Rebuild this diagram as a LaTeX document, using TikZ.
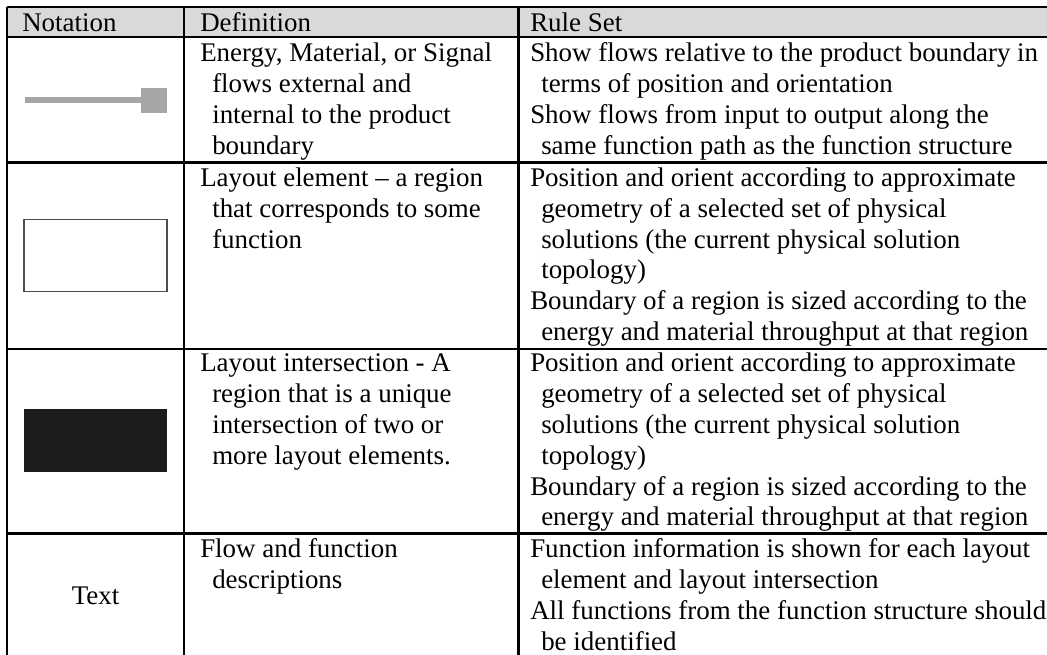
\documentclass[tikz,border=0pt]{standalone}
\usepackage{fontspec}
\setmainfont{Liberation Serif}
\definecolor{headgray}{HTML}{D9D9D9}
\definecolor{flowgray}{HTML}{A6A6A6}
\definecolor{boxedge}{HTML}{4D4D4D}
\definecolor{darkfill}{HTML}{1C1C1C}
\tikzset{
  rule/.style={line width=1.6pt},
  txt/.style={anchor=base west, inner sep=0pt, font=\fontsize{20.2}{23.25}\selectfont},
}
\begin{document}
\begin{tikzpicture}[x=0.75pt, y=-0.75pt]
\useasboundingbox (0,0) rectangle (1047,655);
% header
\fill[headgray] (7,7) rectangle (1047,37);
\draw[rule] (7,7)--(1047,7);
\draw[rule] (7,37)--(1047,37);
\draw[rule] (7,162.5)--(1047,162.5);
\draw[rule] (7,349)--(1047,349);
\draw[rule] (7,533.5)--(1047,533.5);
\draw[rule] (7,7)--(7,655);
\draw[rule] (184,7)--(184,655);
\draw[rule] (518.5,7)--(518.5,655);
\node[txt] (hnot) at (22,31.5) {Notation};
\node[txt] (hdef) at (200,31.5) {Definition};
\node[txt] (hrul) at (530,31.5) {Rule Set};
% notation symbols
\draw[flowgray, line width=4.5pt] (25,100.5)--(143,100.5);
\fill[flowgray] (141,88) rectangle (167,113);
\draw[boxedge, line width=0.8pt] (24,219.5) rectangle (167,291.5);
\fill[darkfill] (24,409) rectangle (167,472.5);
\node[txt, anchor=base] (ntext) at (95.5,605) {Text};
% definitions
\node[txt] (d11) at (200,61.5) {Energy, Material, or Signal};
\node[txt] (d12) at (212,92.5) {flows external and};
\node[txt] (d13) at (212,123.5) {internal to the product};
\node[txt] (d14) at (212,154.5) {boundary};
\node[txt] (d21) at (200,186.5) {Layout element -- a region};
\node[txt] (d22) at (212,217.3) {that corresponds to some};
\node[txt] (d23) at (212,248.1) {function};
\node[txt] (d31) at (200,372) {Layout intersection - A};
\node[txt] (d32) at (212,402.8) {region that is a unique};
\node[txt] (d33) at (212,433.6) {intersection of two or};
\node[txt] (d34) at (212,464.4) {more layout elements.};
\node[txt] (d41) at (200,558) {Flow and function};
\node[txt] (d42) at (212,589) {descriptions};
% rule set
\node[txt] (r11) at (530,61.5) {Show flows relative to the product boundary in};
\node[txt] (r12) at (541,92.5) {terms of position and orientation};
\node[txt] (r13) at (530,123.5) {Show flows from input to output along the};
\node[txt] (r14) at (541,154.5) {same function path as the function structure};
\node[txt] (r21) at (530,186.5) {Position and orient according to approximate};
\node[txt] (r22) at (541,217.3) {geometry of a selected set of physical};
\node[txt] (r23) at (541,248.1) {solutions (the current physical solution};
\node[txt] (r24) at (541,278.9) {topology)};
\node[txt] (r25) at (530,309.7) {Boundary of a region is sized according to the};
\node[txt] (r26) at (541,340.5) {energy and material throughput at that region};
\node[txt] (r31) at (530,372) {Position and orient according to approximate};
\node[txt] (r32) at (541,402.8) {geometry of a selected set of physical};
\node[txt] (r33) at (541,433.6) {solutions (the current physical solution};
\node[txt] (r34) at (541,464.4) {topology)};
\node[txt] (r35) at (530,495.2) {Boundary of a region is sized according to the};
\node[txt] (r36) at (541,526) {energy and material throughput at that region};
\node[txt] (r41) at (530,558) {Function information is shown for each layout};
\node[txt] (r42) at (541,589) {element and layout intersection};
\node[txt] (r43) at (530,620) {All functions from the function structure should};
\node[txt] (r44) at (541,651) {be identified};
\end{tikzpicture}
\end{document}
